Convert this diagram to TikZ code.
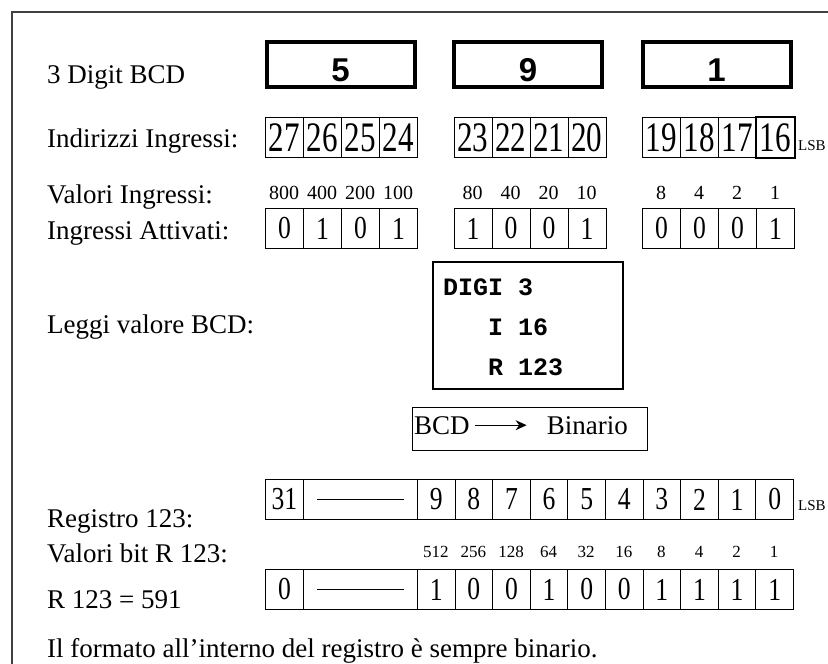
\documentclass[tikz,border=0pt]{standalone}
\usepackage{fontspec}
\setmainfont{Liberation Serif}
\setmonofont{Liberation Mono}
\newfontfamily\narrowserif[FakeStretch=0.8]{Liberation Serif}
\newfontfamily\tallserif[FakeStretch=0.74]{Liberation Serif}
\newfontfamily\digitsans{Liberation Sans}
\usetikzlibrary{arrows.meta}

\begin{document}
\begin{tikzpicture}[x=1pt, y=-1pt,
  lbl/.style={anchor=base west, inner sep=0pt, font=\fontsize{27}{32}\selectfont},
  bcdbox/.style={draw, line width=4pt, minimum width=148pt, minimum height=45pt, inner sep=0pt},
  bigdig/.style={inner sep=0pt, font=\fontsize{33}{33}\digitsans\bfseries},
  cell/.style={draw, line width=0.9pt, anchor=north west, minimum width=38pt, minimum height=40pt, inner sep=0pt},
  addr/.style={cell, font=\fontsize{42}{42}\tallserif},
  bit/.style={cell, font=\fontsize{32}{32}\narrowserif},
  wt/.style={inner sep=0pt, font=\fontsize{20}{20}\selectfont},
  wtsmall/.style={inner sep=0pt, font=\fontsize{17}{17}\selectfont},
  lsb/.style={anchor=base west, inner sep=0pt, font=\fontsize{15}{15}\selectfont},
  code/.style={anchor=base west, inner sep=0pt, font=\fontsize{25}{25}\ttfamily\bfseries},
  arr/.style={-{Stealth[length=11pt, width=10pt]}, line width=1.3pt}
]
\useasboundingbox (0,0) rectangle (828,664);
\draw[line width=2pt, black!75] (12,664) -- (12,12) -- (828,12);

% labels on the left
\node[lbl] (l1) at (47,83) {3 Digit BCD};
\node[lbl] (l2) at (47,147) {Indirizzi Ingressi:};
\node[lbl] (l3) at (47,203) {Valori Ingressi:};
\node[lbl] (l4) at (47,239) {Ingressi Attivati:};
\node[lbl] (l5) at (47,333) {Leggi valore BCD:};
\node[lbl] (l6) at (47,527) {Registro 123:};
\node[lbl] (l7) at (47,562) {Valori bit R 123:};
\node[lbl] (l8) at (47,608) {R 123 = 591};
\node[lbl] (l9) at (47,657) {Il formato all'interno del registro è sempre binario.};

% BCD digits
\foreach \dg/\cx in {5/340.5, 9/528, 1/716.5}{
  \node[bcdbox] (bcd\dg) at (\cx,64.5) {};
  \node[bigdig, yshift=-6pt] (num\dg) at (bcd\dg.center) {\dg};
}

% input addresses, values and states
\foreach \a [count=\i from 0] in {27,26,...,16}{
  \pgfmathsetmacro{\xa}{265+188.5*int(\i/4)+38*mod(\i,4)}
  \node[addr] (in\a) at (\xa,117) {\a};
}
\draw[line width=2pt] (in16.south west) rectangle (in16.north east);
\node[lsb] (lsb1) at (798,150) {LSB};
\foreach \w [count=\i from 0] in {800,400,200,100,80,40,20,10,8,4,2,1}{
  \pgfmathsetmacro{\xa}{265+188.5*int(\i/4)+38*mod(\i,4)}
  \node[wt] (w\i) at (\xa+19,193) {\w};
}
\foreach \s [count=\i from 0] in {0,1,0,1,1,0,0,1,0,0,0,1}{
  \pgfmathsetmacro{\xa}{265+188.5*int(\i/4)+38*mod(\i,4)}
  \node[bit] (act\i) at (\xa,208) {\s};
}

% DIGI instruction
\node[draw, line width=1.2pt, minimum width=190pt, minimum height=127pt] (prog) at (528,325.5) {};
\node[code] (pl1) at (443,295) {DIGI 3};
\node[code] (pl2) at (443,335) {\phantom{DIG}I 16};
\node[code] (pl3) at (443,375) {\phantom{DIG}R 123};

% conversion
\node[draw, line width=1pt, minimum width=235pt, minimum height=43pt] (conv) at (529.5,428.5) {};
\node[lbl] (bcdl) at (414,434) {BCD};
\node[lbl, anchor=base east] (binr) at (628,434) {Binario};
\draw[arr, shorten <=5pt, shorten >=20pt] (bcdl.east) -- (binr.west);

% register 123
\node[bit] (r31) at (265,479) {31};
\node[cell, minimum width=114pt] (rgap) at (303,479) {};
\draw[line width=0.9pt] ([xshift=14pt]rgap.west) -- ([xshift=-14pt]rgap.east);
\foreach \b [count=\i from 0] in {9,8,...,0}{
  \node[bit, minimum width=37.6pt] (r\b) at (417+37.6*\i,479) {\b};
}
\node[lsb] (lsb2) at (798,510) {LSB};
\foreach \w [count=\i from 0] in {512,256,128,64,32,16,8,4,2,1}{
  \node[wtsmall] (bw\i) at (417+37.6*\i+18.8,552) {\w};
}
\node[bit] (v31) at (265,569) {0};
\node[cell, minimum width=114pt] (vgap) at (303,569) {};
\draw[line width=0.9pt] ([xshift=14pt]vgap.west) -- ([xshift=-14pt]vgap.east);
\foreach \s [count=\i from 0] in {1,0,0,1,0,0,1,1,1,1}{
  \node[bit, minimum width=37.6pt] (v\i) at (417+37.6*\i,569) {\s};
}
\end{tikzpicture}
\end{document}
